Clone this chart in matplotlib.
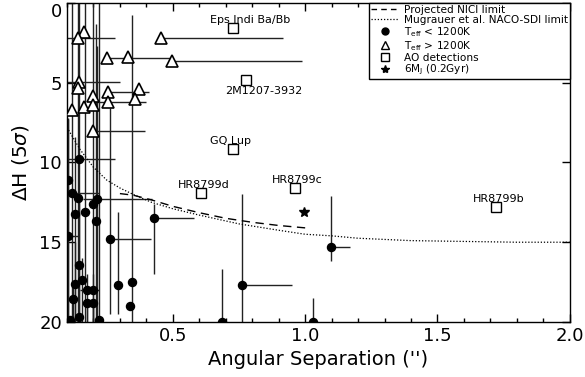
import matplotlib
matplotlib.use('Agg')
import matplotlib.pyplot as plt
from matplotlib.lines import Line2D
from matplotlib.ticker import MultipleLocator, FormatStrFormatter
import numpy as np

# Objets froids (Teff < 1200K) : position, barres d'erreur (bornes)
froid_x = [0.145, 0.104, 0.119, 0.141, 0.213, 0.198, 0.168, 0.130, 0.209, 0.104,
           0.145, 0.130, 0.156, 0.123, 0.175, 0.198, 0.175, 0.198, 0.145, 0.220,
           0.111, 0.262, 0.292, 0.344, 0.337, 0.427, 0.686, 0.762, 1.096, 1.030]
froid_y = [9.8, 11.1, 11.9, 12.2, 12.3, 12.6, 13.1, 13.2, 13.7, 14.6,
           16.4, 17.6, 17.4, 18.55, 18.0, 18.0, 18.8, 18.8, 19.7, 19.9,
           19.9, 14.8, 17.7, 17.5, 19.0, 13.5, 20.0, 17.7, 15.3, 20.0]
froid_xmin = [0.10, 0.104, 0.10, 0.141, 0.16, 0.198, 0.168, 0.130, 0.209, 0.10,
              0.145, 0.130, 0.156, 0.10, 0.15, 0.198, 0.175, 0.198, 0.145, 0.220,
              0.111, 0.262, 0.292, 0.344, 0.337, 0.427, 0.686, 0.762, 1.096, 1.030]
froid_xmax = [0.28, 0.104, 0.22, 0.141, 0.42, 0.198, 0.168, 0.130, 0.209, 0.14,
              0.145, 0.130, 0.156, 0.13, 0.22, 0.198, 0.175, 0.198, 0.145, 0.220,
              0.111, 0.416, 0.292, 0.344, 0.337, 0.581, 0.686, 0.950, 1.170, 1.030]
froid_ymin = [0.0, 7.3, 0.0, 0.0, 2.7, 0.0, 0.0, 8.4, 1.3, 7.2,
              12.0, 15.0, 16.0, 17.5, 17.0, 17.0, 18.8, 18.8, 19.7, 0.0,
              19.9, 6.6, 13.1, 0.75, 19.0, 12.6, 16.7, 12.0, 12.1, 18.5]
froid_ymax = [20.0, 20.0, 20.0, 20.0, 20.0, 20.0, 20.0, 20.0, 20.0, 20.0,
              20.0, 20.0, 20.0, 20.0, 20.0, 20.0, 20.0, 20.0, 20.0, 20.0,
              20.0, 19.5, 19.5, 20.0, 19.0, 17.0, 20.0, 20.0, 16.2, 20.0]

# Objets chauds (Teff > 1200K)
chaud_x = [0.164, 0.141, 0.457, 0.250, 0.330, 0.495, 0.145, 0.141, 0.198,
           0.254, 0.371, 0.356, 0.254, 0.119, 0.164, 0.198, 0.198]
chaud_y = [1.82, 2.2, 2.2, 3.46, 3.4, 3.65, 4.97, 5.35, 5.8,
           5.6, 5.4, 6.04, 6.2, 6.7, 6.55, 6.4, 8.05]
chaud_xmin = [0.164, 0.10, 0.457, 0.250, 0.330, 0.495, 0.10, 0.141, 0.198,
              0.254, 0.371, 0.356, 0.194, 0.119, 0.164, 0.198, 0.198]
chaud_xmax = [0.164, 0.28, 0.916, 0.490, 0.330, 0.987, 0.30, 0.141, 0.198,
              0.410, 0.371, 0.356, 0.400, 0.119, 0.164, 0.198, 0.393]

# Détections AO
ao_noms = ['Eps Indi Ba/Bb', '2M1207-3932', 'GQ Lup', 'HR8799d', 'HR8799c', 'HR8799b']
ao_x = [0.728, 0.777, 0.728, 0.607, 0.961, 1.720]
ao_y = [1.57, 4.84, 9.18, 11.9, 11.57, 12.77]

# 6 MJ (0.2 Gyr)
etoile_x = [0.995]
etoile_y = [13.08]

# Limites de détection
nici_x = [0.30, 0.35, 0.42, 0.50, 0.60, 0.70, 0.80, 0.90, 1.00]
nici_y = [11.95, 12.05, 12.35, 12.75, 13.15, 13.5, 13.75, 13.95, 14.1]
naco_x = [0.10, 0.15, 0.20, 0.25, 0.30, 0.35, 0.42, 0.50, 0.60, 0.75,
          0.90, 1.00, 1.10, 1.20, 1.40, 1.60, 1.80, 2.00]
naco_y = [7.8, 9.2, 10.3, 11.1, 11.6, 12.0, 12.5, 12.9, 13.3, 13.85,
          14.25, 14.5, 14.6, 14.75, 14.9, 14.95, 15.0, 15.0]

fig = plt.figure(figsize=(5.85, 3.77), dpi=100)
ax = fig.add_axes([0.1145, 0.146, 0.8595, 0.846])

fx = np.array(froid_x)
fy = np.array(froid_y)
xerr_f = [fx - np.array(froid_xmin), np.array(froid_xmax) - fx]
yerr_f = [fy - np.array(froid_ymin), np.array(froid_ymax) - fy]
ax.errorbar(fx, fy, xerr=xerr_f, yerr=yerr_f, fmt='none', ecolor='#222222',
            elinewidth=1.0, capsize=0, zorder=2)
ax.plot(fx, fy, 'o', color='black', markersize=5.8, zorder=3)

cx = np.array(chaud_x)
cy = np.array(chaud_y)
xerr_c = [cx - np.array(chaud_xmin), np.array(chaud_xmax) - cx]
ax.errorbar(cx, cy, xerr=xerr_c, fmt='none', ecolor='#222222',
            elinewidth=1.0, capsize=0, zorder=2)
ax.plot(cx, cy, '^', markerfacecolor='white', markeredgecolor='black',
        markeredgewidth=1.2, markersize=8, zorder=4)

ax.plot(ao_x, ao_y, 's', markerfacecolor='white', markeredgecolor='black',
        markeredgewidth=1.0, markersize=7.5, zorder=4)
for nom, x, y in zip(ao_noms, ao_x, ao_y):
    if nom == '2M1207-3932':
        ax.annotate(nom, (x, y), xytext=(-21, -6), textcoords='offset pixels',
                    ha='left', va='top', fontsize=8, zorder=5)
    else:
        ax.annotate(nom, (x, y), xytext=(-23, 3), textcoords='offset pixels',
                    ha='left', va='bottom', fontsize=8, zorder=5)

ax.plot(etoile_x, etoile_y, '*', color='black', markersize=7, zorder=4)

ax.plot(nici_x, nici_y, color='black', linestyle=(0, (6, 4)), linewidth=1.0, zorder=3)
ax.plot(naco_x, naco_y, color='black', linestyle=(0, (1, 1.5)), linewidth=0.9, zorder=3)

ax.set_xlim(0.1, 2.0)
ax.set_ylim(20, 0)
ax.xaxis.set_major_locator(MultipleLocator(0.5))
ax.xaxis.set_minor_locator(MultipleLocator(0.1))
ax.xaxis.set_major_formatter(FormatStrFormatter('%.1f'))
ax.yaxis.set_major_locator(MultipleLocator(5))
ax.tick_params(which='both', direction='in', top=True, right=True, labelsize=13)
ax.tick_params(which='major', length=6, width=1)
ax.tick_params(which='minor', length=3, width=1)
for sp in ax.spines.values():
    sp.set_linewidth(1.0)

# le "0" du haut est posé sous le trait pour ne pas être coupé
fig.canvas.draw()
for tick in ax.yaxis.get_major_ticks():
    if abs(tick.get_loc()) < 1e-9:
        tick.label1.set_verticalalignment('top')

ax.set_xlabel("Angular Separation ('')", fontsize=14)
ax.set_ylabel(r'$\Delta$H (5$\sigma$)', fontsize=14.5, labelpad=6)

poignees = [
    Line2D([], [], color='black', linestyle=(0, (4, 3)), linewidth=1.0),
    Line2D([], [], color='black', linestyle=(0, (1, 1.5)), linewidth=0.9),
    Line2D([], [], color='black', marker='o', linestyle='none', markersize=5),
    Line2D([], [], color='black', marker='^', markerfacecolor='white', linestyle='none', markersize=6),
    Line2D([], [], color='black', marker='s', markerfacecolor='white', linestyle='none', markersize=6),
    Line2D([], [], color='black', marker='*', linestyle='none', markersize=6),
]
etiquettes = ['Projected NICI limit', 'Mugrauer et al. NACO-SDI limit',
              r'T$_{\rm eff}$ < 1200K', r'T$_{\rm eff}$ > 1200K',
              'AO detections', r'6M$_{\rm J}$ (0.2Gyr)']
leg = ax.legend(poignees, etiquettes, loc='upper right', fontsize=7.6,
                frameon=True, fancybox=False, edgecolor='black', framealpha=1,
                borderaxespad=0, handlelength=2.6, labelspacing=0.0,
                borderpad=0.2, handletextpad=0.5)
leg.get_frame().set_linewidth(1.0)
leg.set_zorder(10)

plt.savefig('out.png', dpi=100)
